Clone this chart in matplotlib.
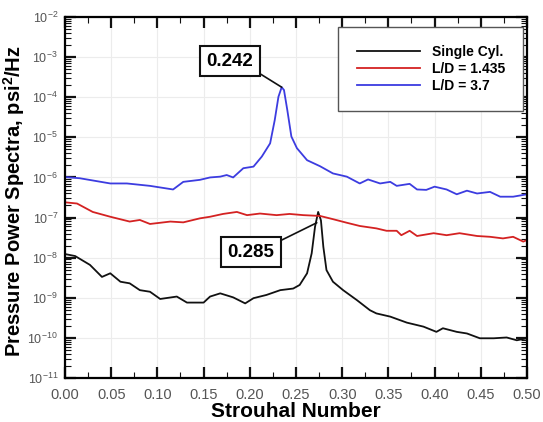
import matplotlib
matplotlib.use('Agg')
import matplotlib.pyplot as plt
import numpy as np
from matplotlib.ticker import LogLocator, MultipleLocator, NullFormatter

plt.rcParams['font.family'] = ['Liberation Sans', 'DejaVu Sans']
plt.rcParams['mathtext.fontset'] = 'custom'
plt.rcParams['mathtext.rm'] = 'Liberation Sans'
plt.rcParams['mathtext.bf'] = 'Liberation Sans:bold'

# Strouhal number / log10(PSD)
st_single = [0.000, 0.011, 0.027, 0.040, 0.049, 0.060, 0.070, 0.081, 0.092, 0.103,
             0.121, 0.132, 0.150, 0.157, 0.168, 0.182, 0.195, 0.204, 0.218, 0.233,
             0.247, 0.254, 0.262, 0.267, 0.2706, 0.274, 0.277, 0.2796, 0.283, 0.290,
             0.301, 0.316, 0.330, 0.337, 0.352, 0.370, 0.388, 0.402, 0.409, 0.424,
             0.435, 0.449, 0.464, 0.478, 0.489, 0.500]
lg_single = [-7.91, -7.96, -8.18, -8.48, -8.39, -8.60, -8.64, -8.81, -8.85, -9.03,
             -8.97, -9.12, -9.12, -8.97, -8.89, -8.99, -9.14, -9.01, -8.93, -8.81,
             -8.77, -8.68, -8.39, -7.89, -7.23, -6.86, -7.07, -7.73, -8.31, -8.60,
             -8.81, -9.06, -9.31, -9.39, -9.47, -9.62, -9.72, -9.85, -9.76, -9.85,
             -9.89, -10.01, -10.01, -9.99, -10.06, -10.01]

st_ld1 = [0.000, 0.013, 0.030, 0.049, 0.070, 0.081, 0.092, 0.114, 0.128, 0.146,
          0.157, 0.171, 0.186, 0.197, 0.211, 0.229, 0.243, 0.258, 0.276, 0.290,
          0.305, 0.319, 0.337, 0.348, 0.359, 0.364, 0.373, 0.381, 0.399, 0.413,
          0.427, 0.446, 0.460, 0.474, 0.485, 0.496, 0.500]
lg_ld1 = [-6.62, -6.65, -6.86, -6.98, -7.10, -7.06, -7.16, -7.10, -7.12, -7.02,
          -6.98, -6.91, -6.86, -6.94, -6.90, -6.94, -6.91, -6.94, -6.96, -7.04,
          -7.13, -7.21, -7.27, -7.33, -7.33, -7.44, -7.33, -7.46, -7.39, -7.44,
          -7.39, -7.46, -7.48, -7.52, -7.48, -7.60, -7.56]

st_ld2 = [0.000, 0.016, 0.049, 0.067, 0.092, 0.117, 0.128, 0.146, 0.157, 0.168,
          0.175, 0.182, 0.193, 0.204, 0.213, 0.222, 0.227, 0.231, 0.2345, 0.237,
          0.2406, 0.245, 0.251, 0.262, 0.276, 0.290, 0.305, 0.319, 0.328, 0.341,
          0.352, 0.359, 0.373, 0.381, 0.391, 0.400, 0.413, 0.424, 0.435, 0.446,
          0.460, 0.471, 0.485, 0.500]
lg_ld2 = [-5.99, -6.02, -6.15, -6.15, -6.21, -6.30, -6.11, -6.06, -6.00, -5.98,
          -5.94, -6.00, -5.77, -5.73, -5.48, -5.15, -4.57, -3.99, -3.75, -3.82,
          -4.32, -4.98, -5.27, -5.57, -5.72, -5.90, -5.98, -6.15, -6.05, -6.15,
          -6.11, -6.21, -6.16, -6.30, -6.31, -6.23, -6.30, -6.42, -6.33, -6.40,
          -6.36, -6.48, -6.48, -6.42]

labels = ['Single Cyl.', 'L/D = 1.435', 'L/D = 3.7']
colors = ['#111111', '#d42222', '#3c3ce0']

fig = plt.figure(figsize=(5.43, 4.22), dpi=100)
ax = fig.add_axes([0.1197, 0.1043, 0.8508, 0.8554])

for st, lg, lab, c in zip([st_single, st_ld1, st_ld2], [lg_single, lg_ld1, lg_ld2], labels, colors):
    ax.plot(st, 10.0 ** np.array(lg), color=c, lw=1.3, label=lab)

ax.set_yscale('log')
ax.set_xlim(0, 0.5)
ax.set_ylim(1e-11, 1e-2)
ax.xaxis.set_major_locator(MultipleLocator(0.05))
ax.xaxis.set_minor_locator(MultipleLocator(0.025))
ax.xaxis.set_major_formatter(matplotlib.ticker.FormatStrFormatter('%.2f'))
ax.yaxis.set_major_locator(LogLocator(base=10, numticks=20))
ax.yaxis.set_minor_locator(LogLocator(base=10, subs=np.arange(2, 10), numticks=20))
ax.yaxis.set_minor_formatter(NullFormatter())
ax.tick_params(which='both', direction='in', top=True, right=True, colors='#111111',
               labelcolor='#555555')
ax.tick_params(axis='x', labelsize=10.5, pad=7)
ax.tick_params(axis='y', labelsize=9, pad=5)
ax.tick_params(which='major', length=8, width=1.6)
ax.tick_params(which='minor', length=4, width=0.8)
for s in ax.spines.values():
    s.set_linewidth(1.6)
ax.grid(which='major', color='#ececec', lw=0.8)
ax.set_axisbelow(True)

ax.set_xlabel('Strouhal Number', fontsize=15, fontweight='bold', labelpad=0)
ax.set_ylabel(r'Pressure Power Spectra, psi$^\mathbf{2}$/Hz', fontsize=14.5,
              fontweight='bold')
ax.yaxis.set_label_coords(-0.082, 0.49)

box = dict(boxstyle='square,pad=0.35', fc='white', ec='#111111', lw=1.5)
ax.annotate('0.242', xy=(0.2345, 10 ** -3.75), xytext=(0.1786, 10 ** -3.10),
            fontsize=13.5, fontweight='bold', ha='center', va='center', bbox=box,
            arrowprops=dict(arrowstyle='-', color='#111111', lw=1.2, relpos=(1, 0),
                            shrinkA=0, shrinkB=0))
ax.annotate('0.285', xy=(0.2725, 10 ** -7.13), xytext=(0.2015, 10 ** -7.86),
            fontsize=13.5, fontweight='bold', ha='center', va='center', bbox=box,
            arrowprops=dict(arrowstyle='-', color='#111111', lw=1.2, relpos=(1, 1),
                            shrinkA=0, shrinkB=0))

leg = ax.legend(loc='upper right', bbox_to_anchor=(0.991, 0.972), borderaxespad=0,
                prop={'weight': 'bold', 'size': 10}, handlelength=4.6,
                labelspacing=0.2, borderpad=1.3, fancybox=False, framealpha=1,
                edgecolor='#555555')
leg.get_frame().set_linewidth(1.0)

fig.savefig('out.png', dpi=100)
